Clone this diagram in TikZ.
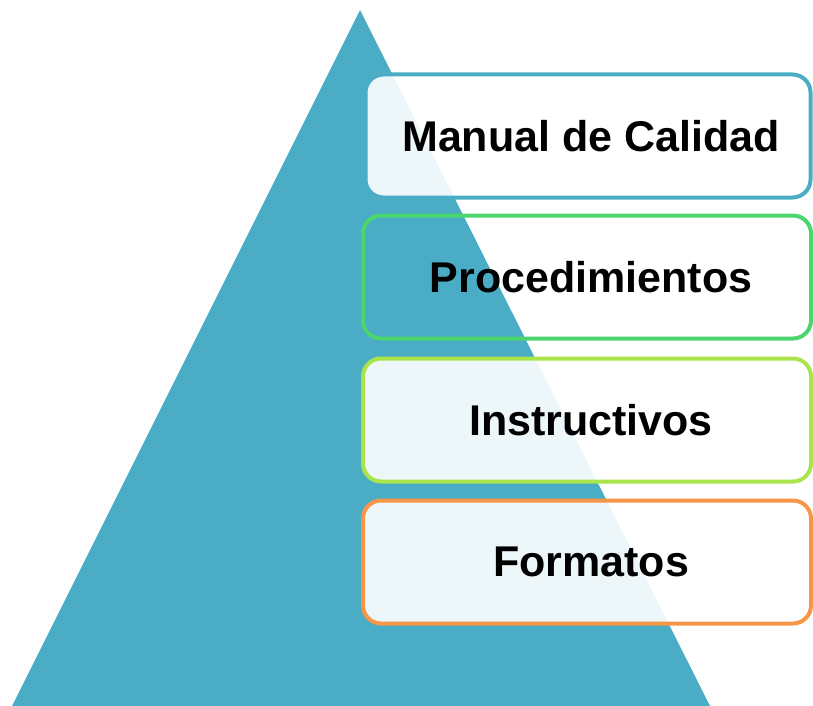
\documentclass[tikz,border=0pt]{standalone}
\usepackage{fontspec}
\setmainfont{Liberation Sans}
\definecolor{tri}{HTML}{4BACC6}
\definecolor{gA}{HTML}{4BACC6}
\definecolor{gB}{HTML}{4AD66D}
\definecolor{gC}{HTML}{A9E44A}
\definecolor{gD}{HTML}{F79646}
\tikzset{
  lvl/.style={draw, line width=4pt, rounded corners=18pt, minimum width=448pt, minimum height=123pt,
    font=\fontsize{43}{50}\selectfont\bfseries, text=black, inner sep=0pt},
  filled/.style={fill=white, fill opacity=0.9, text opacity=1}
}
\begin{document}
\begin{tikzpicture}[x=1pt,y=-1pt]
\useasboundingbox (0,0) rectangle (813,706);
\coordinate (apex) at (360,10);
\coordinate (bl) at (12,706);
\coordinate (br) at (710,706);
\fill[tri] (apex) -- (br) -- (bl) -- cycle;
\node[lvl, filled, draw=gA, minimum width=445pt] (m) at (588,136) {\hspace*{6pt}Manual de Calidad};
\node[lvl, draw=gB] (p) at (587,277) {\hspace*{8pt}Procedimientos};
\node[lvl, filled, draw=gC] (i) at (587,420) {\hspace*{8pt}Instructivos};
\node[lvl, filled, draw=gD] (f) at (587,562) {\hspace*{8pt}Formatos};
\end{tikzpicture}
\end{document}
